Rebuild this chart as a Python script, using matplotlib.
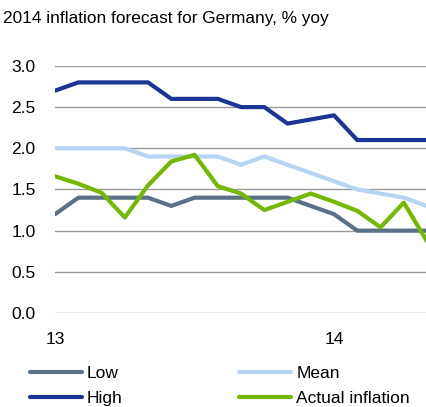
import matplotlib
matplotlib.use("Agg")
import matplotlib.pyplot as plt
import numpy as np

plt.rcParams['font.family'] = ['Liberation Sans', 'DejaVu Sans']

months = np.arange(17)  # Jan 2013 .. May 2014
low = [1.2, 1.4, 1.4, 1.4, 1.4, 1.3, 1.4, 1.4, 1.4, 1.4, 1.4, 1.3, 1.2, 1.0, 1.0, 1.0, 1.0]
mean = [2.0, 2.0, 2.0, 2.0, 1.9, 1.9, 1.9, 1.9, 1.8, 1.9, 1.8, 1.7, 1.6, 1.5, 1.45, 1.4, 1.3]
high = [2.7, 2.8, 2.8, 2.8, 2.8, 2.6, 2.6, 2.6, 2.5, 2.5, 2.3, 2.35, 2.4, 2.1, 2.1, 2.1, 2.1]
actual = [1.66, 1.57, 1.46, 1.16, 1.55, 1.84, 1.92, 1.54, 1.45, 1.25, 1.35, 1.45, 1.35, 1.24, 1.04, 1.34, 0.87]
tick_pos = [0, 12]
tick_labels = ['13', '14']

fig = plt.figure(figsize=(4.27, 4.07), dpi=100)
ax = fig.add_axes([0.129, 0.231, 0.871, 0.607])

ax.plot(months, low, color='#5b7188', lw=3, label='Low', solid_capstyle='round')
ax.plot(months, mean, color='#b7d5f2', lw=3, label='Mean', solid_capstyle='round')
ax.plot(months, high, color='#1c3595', lw=3, label='High', solid_capstyle='round')
ax.plot(months, actual, color='#74b800', lw=3, label='Actual inflation', solid_capstyle='round')

ax.set_xlim(0, 16)
ax.set_ylim(0, 3.0)
ax.set_yticks(np.arange(0, 3.01, 0.5))
ax.set_yticklabels(['%.1f' % v for v in np.arange(0, 3.01, 0.5)], fontsize=12.5)
ax.set_xticks(tick_pos)
ax.set_xticklabels(tick_labels, fontsize=12.5)
ax.tick_params(axis='y', length=0, pad=14)
ax.tick_params(axis='x', length=0, pad=14)
ax.grid(axis='y', color='#999999', lw=1)
ax.set_axisbelow(True)
for s in ax.spines.values():
    s.set_visible(False)

fig.text(0.008, 0.955, '2014 inflation forecast for Germany, % yoy', fontsize=12.4, va='center')

handles, labels = ax.get_legend_handles_labels()
order = [0, 2, 1, 3]
fig.legend([handles[i] for i in order], [labels[i] for i in order],
           loc='lower left', bbox_to_anchor=(0.033, -0.035), ncol=2, frameon=False,
           fontsize=12.5, handlelength=3.0, handletextpad=0.3, columnspacing=6.7,
           labelspacing=0.55)

fig.savefig('out.png', dpi=100)
